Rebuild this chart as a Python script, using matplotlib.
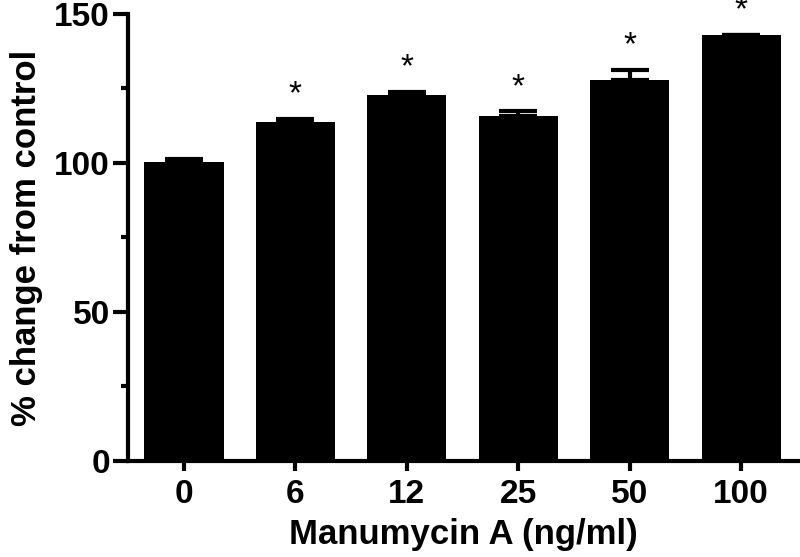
import matplotlib
matplotlib.use("Agg")
import matplotlib.pyplot as plt
import numpy as np
from matplotlib.ticker import MultipleLocator

plt.rcParams["font.family"] = ["Liberation Sans", "DejaVu Sans"]
plt.rcParams["font.weight"] = "bold"

doses = ["0", "6", "12", "25", "50", "100"]
means = [100.3, 113.8, 122.8, 115.8, 127.9, 143.1]
errors = [1.2, 1.1, 1.1, 1.6, 3.4, 0.0]
significant = [False, True, True, True, True, True]

fig = plt.figure(figsize=(8.0, 5.57), dpi=100)
ax = fig.add_axes([0.16, 0.1724, 0.8375, 0.8025])

x = np.arange(len(doses))
ax.bar(x, means, width=0.71, color="black", zorder=2)
ax.errorbar(x, means, yerr=[np.zeros(len(errors)), errors], fmt="none",
            ecolor="black", elinewidth=3, capsize=14, capthick=3, zorder=3)

for xi, m, e, sig in zip(x, means, errors, significant):
    if sig:
        ax.text(xi, m + e + 8, "*", ha="center", va="center",
                fontsize=24, fontweight="normal", clip_on=False)

ax.set_xlim(-0.503, 5.51)
ax.set_ylim(0, 150)
ax.set_xticks(x)
ax.set_xticklabels(doses)
ax.yaxis.set_major_locator(MultipleLocator(50))
ax.yaxis.set_minor_locator(MultipleLocator(25))

for side in ["top", "right"]:
    ax.spines[side].set_visible(False)
for side in ["left", "bottom"]:
    ax.spines[side].set_linewidth(3)

ax.tick_params(axis="y", which="major", length=11, width=3, labelsize=24, pad=2)
ax.tick_params(axis="y", which="minor", length=5, width=3)
ax.tick_params(axis="x", which="major", length=7, width=3, labelsize=24, pad=6)

ax.set_xlabel("Manumycin A (ng/ml)", fontsize=25, fontweight="bold", labelpad=6)
ax.set_ylabel("% change from control", fontsize=25, fontweight="bold", labelpad=8)

fig.savefig("out.png", dpi=100)
